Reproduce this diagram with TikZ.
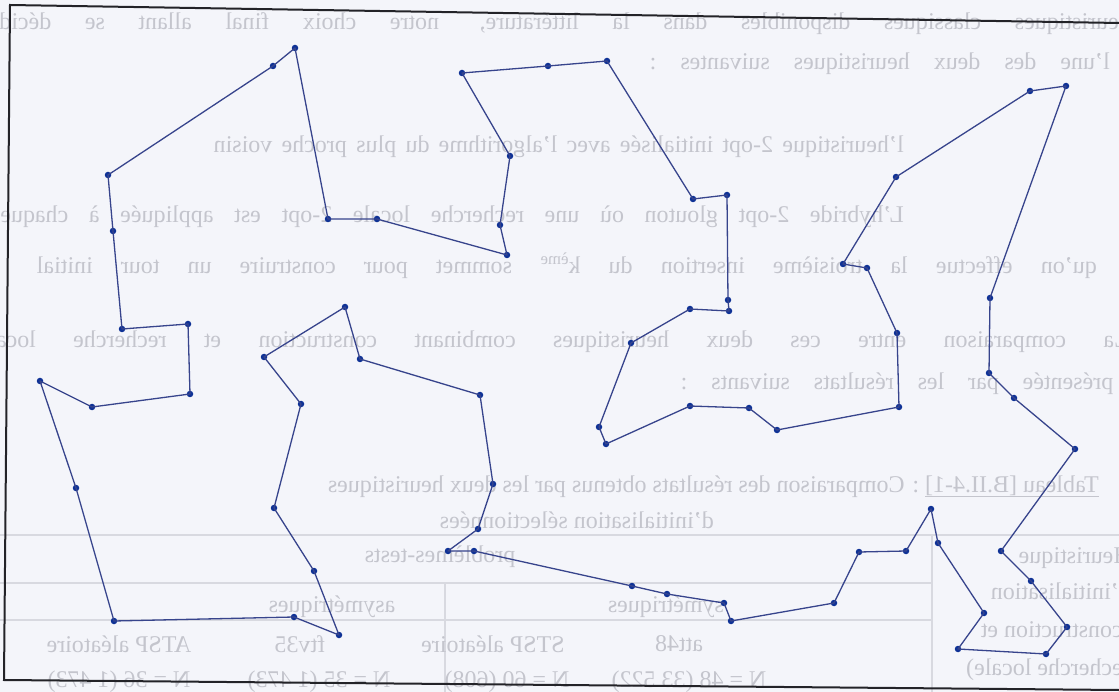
\documentclass[tikz,border=0pt]{standalone}
\usepackage{fontspec}
\setmainfont{Liberation Serif}
\definecolor{bg}{RGB}{244,245,250}
\definecolor{ghost}{RGB}{196,197,205}
\definecolor{ghostrule}{RGB}{216,217,224}
\definecolor{tourline}{RGB}{55,68,140}
\definecolor{tourdot}{RGB}{15,50,150}
\definecolor{framec}{RGB}{35,35,40}
\begin{document}
\begin{tikzpicture}[x=1pt,y=-1pt,
  ghosttext/.style={text=ghost, inner sep=0pt, font=\fontsize{24}{28}\selectfont},
  ghostline/.style={draw=ghostrule, line width=1.2pt},
  dot/.style={circle, fill=tourdot, inner sep=0pt, minimum size=6.5pt},
  tour/.style={draw=tourline, line width=1.3pt, line join=round},
  framebox/.style={draw=framec, line width=2pt}]
\useasboundingbox (0,0) rectangle (1119,692);
\fill[bg] (0,0) rectangle (1119,692);
\begin{scope}
\clip (0,0) rectangle (1119,692);
% faint table rules (bleed-through)
\draw[ghostline] (0,535) -- (1119,535);
\draw[ghostline] (0,583) -- (932,583);
\draw[ghostline] (0,620) -- (932,620);
\draw[ghostline] (932,535) -- (932,692);
\draw[ghostline] (445,583) -- (445,692);
% mirrored bleed-through text from the other side of the page
\begin{scope}[shift={(1119,0)}, xscale=-1, transform shape]
\node[ghosttext, anchor=base west] (g1) at (-12,30) {\makebox[1150pt][s]{heuristiques classiques disponibles dans la littérature, notre choix final allant se décider}};
\node[ghosttext, anchor=base west] (g2) at (9,70) {\makebox[460pt][s]{l'une des deux heuristiques suivantes :}};
\node[ghosttext, anchor=base west] (g3) at (215,153) {\makebox[690pt][s]{l'heuristique 2-opt initialisée avec l'algorithme du plus proche voisin}};
\node[ghosttext, anchor=base west] (g4) at (215,223) {\makebox[960pt][s]{L'hybride 2-opt glouton où une recherche locale 2-opt est appliquée à chaque fois}};
\node[ghosttext, anchor=base west] (g5) at (22,274) {\makebox[1060pt][s]{qu'on effectue la troisième insertion du k\textsuperscript{ème} sommet pour construire un tour initial}};
\node[ghosttext, anchor=base west] (g6) at (-10,348) {\makebox[1150pt][s]{La comparaison entre ces deux heuristiques combinant construction et recherche locale}};
\node[ghosttext, anchor=base west] (g7) at (-45,389) {\makebox[483pt][s]{est présentée par les résultats suivants :}};
\node[ghosttext, anchor=base west] (g8) at (20,492) {\underline{Tableau [B.II.4-1]} : Comparaison des résultats obtenus par les deux heuristiques};
\node[ghosttext, anchor=base west] (g9) at (405,528) {d'initialisation sélectionnées};
\node[ghosttext, anchor=base west] (t1) at (-12,563) {Heuristique};
\node[ghosttext, anchor=base west] (t2) at (-12,599) {d'initialisation};
\node[ghosttext, anchor=base west] (t3) at (-12,637) {(construction et};
\node[ghosttext, anchor=base west] (t4) at (-12,675) {recherche locale)};
\node[ghosttext] (t5) at (679,557) {problèmes-tests};
\node[ghosttext] (t6) at (453,607) {symétriques};
\node[ghosttext] (t7) at (787,607) {asymétriques};
\node[ghosttext] (t8) at (440,644) {att48};
\node[ghosttext] (t9) at (626,644) {STSP aléatoire};
\node[ghosttext] (t10) at (819,644) {ftv35};
\node[ghosttext] (t11) at (1000,644) {ATSP aléatoire};
\node[ghosttext] (t12) at (430,682) {N = 48 (33 522)};
\node[ghosttext] (t13) at (612,682) {N = 60 (608)};
\node[ghosttext] (t14) at (800,682) {N = 35 (1 473)};
\node[ghosttext] (t15) at (1000,682) {N = 36 (1 473)};
\end{scope}
\end{scope}
% frame
\coordinate (f1) at (1119,23);
\coordinate (f2) at (10,5);
\coordinate (f3) at (4,680);
\coordinate (f4) at (1119,690);
\draw[framebox] (f1) -- (f2) -- (f3) -- (f4);
% tour vertices
\foreach \n/\x/\y in {1/295/48, 2/273/66, 3/108/175, 4/113/231, 5/122/329, 6/188/324,
  7/190/394, 8/92/407, 9/40/381, 10/76/488, 11/114/621, 12/294/617, 13/339/635,
  14/314/571, 15/274/508, 16/301/404, 17/264/357, 18/345/307, 19/360/359, 20/480/395,
  21/493/484, 22/478/529, 23/448/551, 24/474/551, 25/632/586, 26/667/594, 27/724/603,
  28/731/621, 29/834/603, 30/859/552, 31/906/551, 32/931/509, 33/938/543, 34/984/613,
  35/958/649, 36/1046/654, 37/1067/627, 38/1031/581, 39/1001/551, 40/1075/449,
  41/1014/398, 42/989/373, 43/990/298, 44/1066/86, 45/1030/91, 46/896/177, 47/843/264,
  48/867/268, 49/897/333, 50/899/407, 51/777/430, 52/749/408, 53/690/406, 54/606/444,
  55/599/427, 56/631/343, 57/690/309, 58/729/311, 59/728/300, 60/727/195, 61/693/199,
  62/607/61, 63/548/66, 64/462/73, 65/510/156, 66/500/225, 67/507/255, 68/377/219,
  69/328/219}
  {\node[dot] (p\n) at (\x,\y) {};}
% tour edges
\draw[tour] (p1.center)
  \foreach \n in {2,...,69} { -- (p\n.center) } -- cycle;
\end{tikzpicture}
\end{document}
